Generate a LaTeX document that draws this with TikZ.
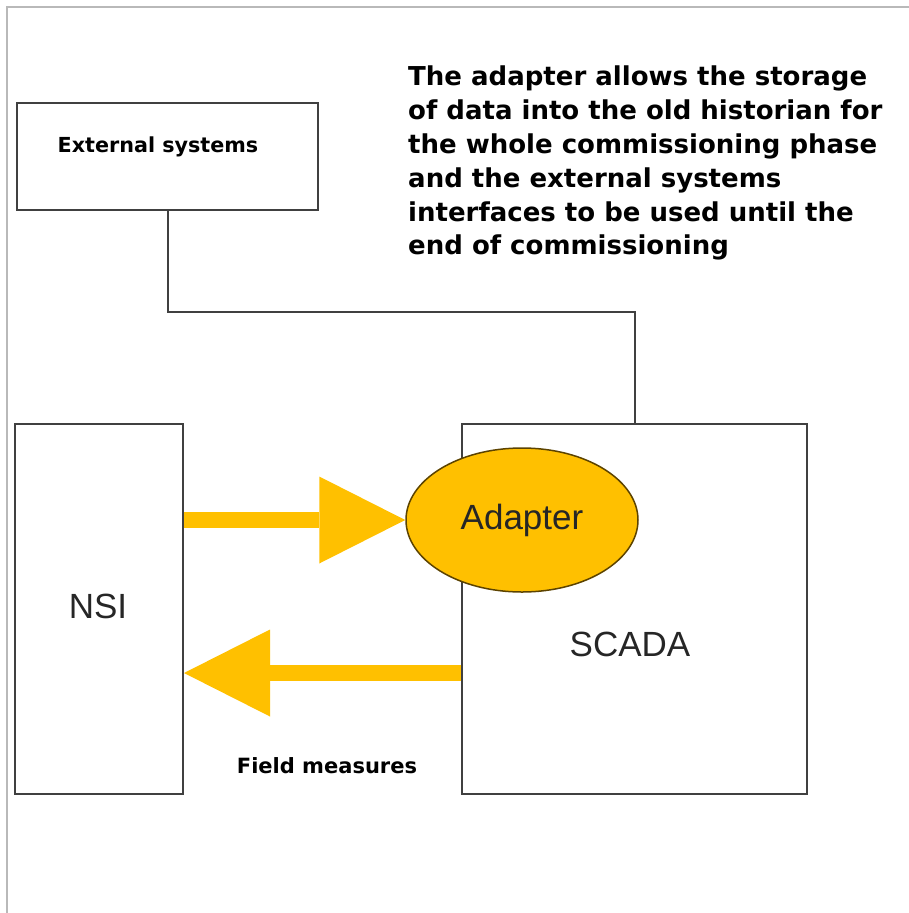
\documentclass[tikz,border=0pt]{standalone}
\usepackage{fontspec}
\setmainfont{Liberation Sans}
\newfontfamily\notefont{DejaVu Sans}
\usetikzlibrary{shapes.geometric,arrows.meta}
\definecolor{amber}{HTML}{FFC000}
\definecolor{edge}{HTML}{404040}
\definecolor{rim}{HTML}{5C4300}

\begin{document}
\begin{tikzpicture}[x=1pt, y=-1pt,
    box/.style = {shape=rectangle, draw=edge, line width=2pt, inner sep=0pt},
    boldtext/.style = {font=\notefont\bfseries\fontsize{21}{25}\selectfont, inner sep=0pt},
    bigtext/.style = {font=\fontsize{35}{40}\selectfont, text=black!85},
    flow/.style = {amber, line width=15.5pt,
      -{Triangle[length=86pt, width=87pt, line width=0pt]}}]
  \useasboundingbox (0,0) rectangle (909,913);
  % page frame
  \draw[gray!55, line width=2pt] (7,913) -- (7,7) -- (909,7);

  \node[box, minimum width=301pt, minimum height=107pt] (ext) at (167.5,156.5) {};
  \node[boldtext, font=\notefont\bfseries\fontsize{20.7}{25}\selectfont] (extname) at (158,147) {External systems};
  \node[box, minimum width=168pt, minimum height=370pt] (nsi) at (99,609) {};
  \node[bigtext] (nsiname) at (98,606) {NSI};
  \node[box, minimum width=345pt, minimum height=370pt] (scada) at (634.5,609) {};
  \node[bigtext] (scadaname) at (630,644) {SCADA};
  \node[shape=ellipse, fill=amber, draw=rim, line width=1.5pt, inner sep=0pt,
        minimum width=232pt, minimum height=144pt, bigtext] (adapter) at (522,520) {Adapter};

  \node[boldtext, font=\notefont\bfseries\fontsize{26}{33.8}\selectfont, align=left, anchor=north west] (note) at (408,66)
    {The adapter allows the storage\\of data into the old historian for\\the whole commissioning phase\\and the external systems\\interfaces to be used until the\\end of commissioning};
  \node[boldtext] (field) at (327,766) {Field measures};

  \coordinate (bend) at (0,312);
  \draw[edge, line width=2pt] (ext.south) -- (ext.south |- bend) -| (scada.north);

  \draw[flow] (nsi.east |- adapter.west) -- (adapter.west);
  \draw[flow] ([yshift=-64pt]scada.west) -- ([yshift=-64pt]nsi.east);
\end{tikzpicture}
\end{document}
